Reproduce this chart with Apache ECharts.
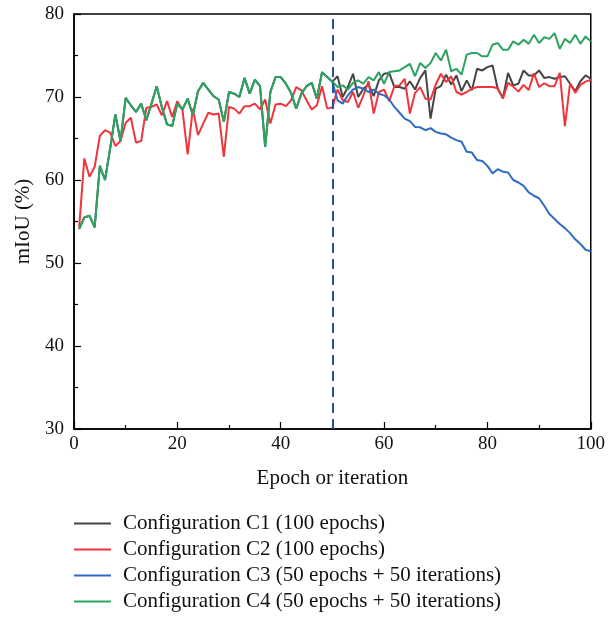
<!DOCTYPE html>
<html><head><meta charset="utf-8">
<script src="https://cdn.jsdelivr.net/npm/echarts@6/dist/echarts.min.js"></script>
<style>html,body{margin:0;padding:0;background:#fff}#c{width:608px;height:618px}</style>
</head><body><div id="c"></div>
<script>
// Epochs 1..50 shared by C1, C3, C4 (C1/C3 hidden under C4 here)
const shared = [54.1,55.5,55.7,54.3,61.7,60.0,63.8,67.9,64.7,69.9,
  69.0,68.2,69.2,67.2,69.2,71.3,68.8,66.7,66.5,69.2,
  68.5,69.8,67.8,70.7,71.7,70.9,70.1,69.7,67.0,70.6,
  70.4,70.0,72.3,70.4,72.1,71.3,64.0,70.6,72.4,72.4,
  71.6,70.5,68.6,70.4,71.3,71.7,69.8,73.0,72.4,71.85];
// Epochs 51..100
const c1Tail = [72.5,70.0,71.2,72.8,70.0,71.0,71.5,70.1,72.0,72.8,
  72.9,71.2,71.2,71.0,71.9,70.9,72.3,73.2,67.4,71.0,
  71.3,72.7,71.5,72.6,70.7,72.0,70.8,73.4,73.2,73.6,
  73.8,71.0,69.9,72.9,71.4,71.6,73.2,72.6,72.6,73.2,
  72.3,72.4,72.2,72.4,72.5,71.6,70.7,71.9,72.6,72.2];
const c2 = [54.3,62.6,60.4,61.6,65.3,66.0,65.7,64.1,64.7,66.9,
  67.5,64.5,64.7,68.7,68.8,69.1,67.8,69.5,67.6,69.5,
  68.4,63.1,68.6,65.4,66.8,68.1,67.9,68.0,62.8,68.8,
  68.6,68.0,68.9,68.9,69.2,68.5,69.7,66.8,69.1,69.2,
  68.9,69.6,71.2,70.8,69.6,68.5,69.0,71.3,68.6,68.75,
  70.9,69.6,69.4,70.6,68.7,70.2,71.9,68.0,70.6,70.9,
  69.5,71.3,71.4,72.2,68.0,70.5,71.2,69.8,69.7,71.5,
  72.8,71.8,72.5,70.6,70.3,70.6,71.0,71.2,71.2,71.2,
  71.2,71.05,69.8,71.7,71.25,70.65,71.45,70.85,72.85,71.2,
  71.65,71.3,71.3,72.9,66.5,71.65,70.5,71.45,71.85,72.05];
const c3Tail = [69.6,69.2,70.2,70.9,71.2,71.0,70.6,70.9,70.4,70.2,
  69.7,68.8,68.1,67.4,67.1,66.4,66.35,66.0,66.25,65.8,
  65.6,65.5,65.1,64.8,64.6,63.4,63.3,62.4,62.3,61.7,
  60.8,61.3,61.0,60.9,60.0,59.7,59.3,58.5,58.1,57.8,
  56.9,55.9,55.3,54.7,54.2,53.6,52.85,52.3,51.6,51.4];
const c4Tail = [71.2,71.4,70.9,71.7,72.0,71.6,72.4,72.0,73.0,71.6,
  73.0,73.1,73.2,73.6,74.0,72.5,74.1,73.5,74.1,75.3,
  74.4,75.7,73.1,73.4,72.7,75.1,75.3,75.3,74.9,74.9,
  76.3,76.5,75.7,75.7,76.7,76.3,76.9,76.4,77.5,76.5,
  77.2,77.0,77.7,75.8,77.0,76.5,77.5,76.4,77.3,76.7];
const seriesNames = ['Configuration C1 (100 epochs)','Configuration C2 (100 epochs)',
  'Configuration C3 (50 epochs + 50 iterations)','Configuration C4 (50 epochs + 50 iterations)'];
const colors = ['#454545','#ef353b','#2f6bc0','#2ba361'];
const switchEpoch = 50;
const xTicks = {min:0,max:100,interval:20};
const yTicks = {min:30,max:80,interval:10};

function pairs(vals, start){ return vals.map((v,i)=>[start+i, v]); }
const c1 = pairs(shared.concat(c1Tail),1);
const c2d = pairs(c2,1);
const c3 = pairs([shared[shared.length-1]].concat(c3Tail),50);
const c4 = pairs(shared.concat(c4Tail),1);

const font = 'Liberation Serif';
const chart = echarts.init(document.getElementById('c'),null,{renderer:'canvas'});
const mk = (name,data,color)=>({name,type:'line',data,symbol:'none',showSymbol:false,
  lineStyle:{width:2,color},itemStyle:{color},animation:false});
const s = [mk(seriesNames[0],c1,colors[0]),mk(seriesNames[1],c2d,colors[1]),
  mk(seriesNames[2],c3,colors[2]),mk(seriesNames[3],c4,colors[3])];
s[0].markLine = {silent:true,symbol:'none',label:{show:false},animation:false,
  lineStyle:{color:'#2a4ea6',type:[10,6],width:2},data:[{xAxis:switchEpoch}]};
chart.setOption({
  animation:false,
  backgroundColor:'#fff',
  grid:{left:74,right:17,top:14,bottom:189,show:true,borderColor:'#000',borderWidth:1.5,backgroundColor:'transparent'},
  xAxis:{type:'value',min:xTicks.min,max:xTicks.max,interval:xTicks.interval,
    name:'Epoch or iteration',nameLocation:'middle',nameGap:39,
    nameTextStyle:{fontFamily:font,fontSize:21,color:'#111'},
    axisLine:{onZero:false,lineStyle:{color:'#000',width:1.5}},
    axisTick:{inside:true,length:7,lineStyle:{color:'#000',width:1.2}},
    minorTick:{show:true,splitNumber:2,length:4,lineStyle:{color:'#000',width:1.2}},
    axisLabel:{fontFamily:font,fontSize:19,color:'#111',margin:6},
    splitLine:{show:false}},
  yAxis:{type:'value',min:yTicks.min,max:yTicks.max,interval:yTicks.interval,
    name:'mIoU (%)',nameLocation:'middle',nameGap:40,nameRotate:90,
    nameTextStyle:{fontFamily:font,fontSize:21,color:'#111'},
    axisLine:{onZero:false,lineStyle:{color:'#000',width:1.5}},
    axisTick:{inside:true,length:7,lineStyle:{color:'#000',width:1.2}},
    minorTick:{show:true,splitNumber:2,length:4,lineStyle:{color:'#000',width:1.2}},
    axisLabel:{fontFamily:font,fontSize:19,color:'#111',margin:10},
    splitLine:{show:false}},
  legend:{orient:'vertical',left:74,top:513,padding:0,height:105,itemWidth:37,itemHeight:2,itemGap:5,icon:'rect',
    textStyle:{fontFamily:font,fontSize:21,color:'#111',lineHeight:19,padding:[0,0,0,7]},
    data:seriesNames},
  series:s
});
</script></body></html>
